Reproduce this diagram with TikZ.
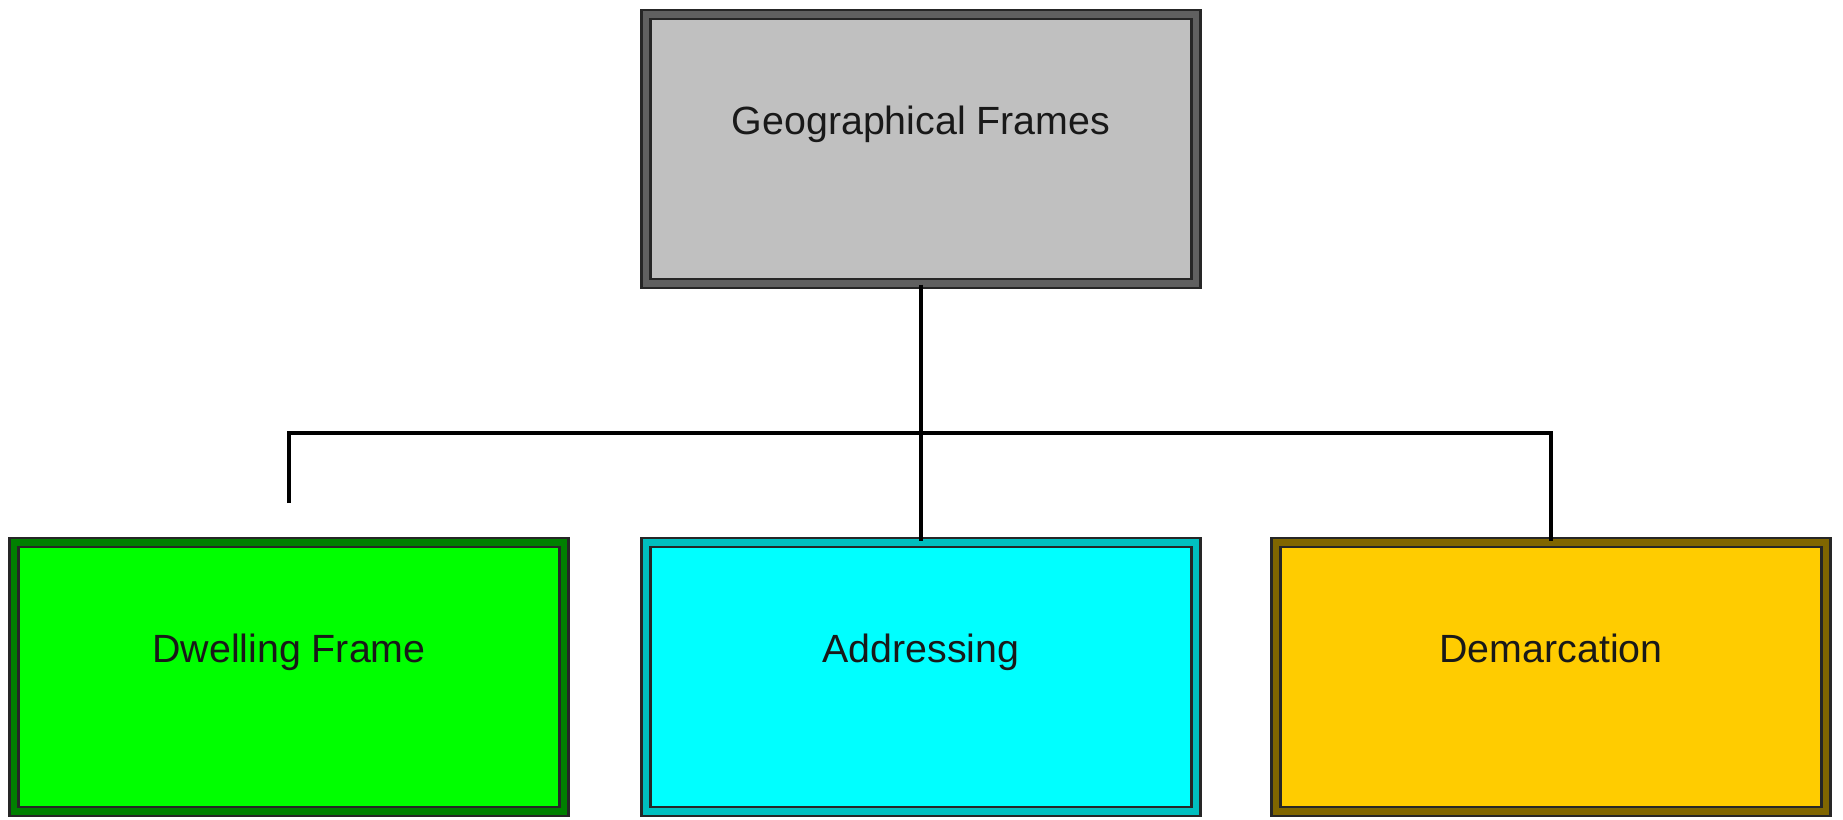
\documentclass[tikz,border=0pt]{standalone}
\usepackage{fontspec}
\setmainfont{Liberation Sans}
\definecolor{geogray}{HTML}{C0C0C0}
\definecolor{dwellgreen}{HTML}{00FF00}
\definecolor{addrcyan}{HTML}{00FFFF}
\definecolor{demyellow}{HTML}{FFCC00}
\begin{document}
\begin{tikzpicture}
[boxdecorate/.style 2 args={shape=rectangle,minimum width=5.5cm,minimum height=2.69cm,
  fill=#1,draw=black!85,line width=0.7pt,double=#1!#2!black,double distance=1.8pt,
  text=black!90,font=\fontsize{11.2}{13}\selectfont,text height=0.3cm,text depth=0.6cm},
  linedecorate/.style={-,line width=1.2pt}]
\useasboundingbox (0,0) rectangle (18.43,-8.19);
%% nodes or boxes
\node (geo) at (9.21,-1.49) [boxdecorate={geogray}{50}] {Geographical Frames};
\foreach \nodename/\x/\boxcolor/\shade/\boxtext in {dwell/2.89/dwellgreen/50/Dwelling Frame,
  addr/9.21/addrcyan/75/Addressing, demarc/15.51/demyellow/50/Demarcation} {
  \node (\nodename) at (\x,-6.77) [boxdecorate={\boxcolor}{\shade}] {\boxtext};
}
%% edges or lines
\coordinate (join) at (9.21,-4.33);
\coordinate (dwelltop) at (2.89,-5.03);
\draw[linedecorate] (geo.south) -- (addr.north);
\draw[linedecorate] (dwelltop) |- (join) -| (demarc.north);
\end{tikzpicture}
\end{document}
